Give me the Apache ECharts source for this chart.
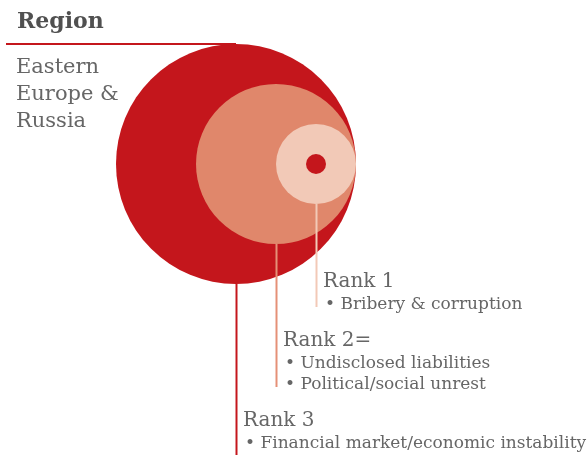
<!DOCTYPE html>
<html>
<head>
<meta charset="utf-8">
<script src="https://cdn.jsdelivr.net/npm/echarts@6/dist/echarts.min.js"></script>
<style>html,body{margin:0;padding:0;background:#fff;}#c{width:588px;height:455px;}</style>
</head>
<body>
<div id="c"></div>
<script>
// ---- data ----
const headerTitle = 'Region';
const regionName = ['Eastern', 'Europe &', 'Russia'];
const ranks = [3, 2, 1];                       // circle size = rank (drawn largest first)
const rankLabels = ['Rank 3', 'Rank 2=', 'Rank 1'];
const rankRisks = [
  ['Financial market/economic instability'],
  ['Undisclosed liabilities', 'Political/social unrest'],
  ['Bribery & corruption']
];
const circleColors = ['#c4161c', '#e0876b', '#f2c9b7'];
const stemColors = ['#c4161c', '#e59077', '#f2c9b7'];

// ---- styles ----
const FONT = "'DejaVu Serif', serif";
const TEXT_COLOR = '#666666';
const TITLE_COLOR = '#505050';
const maxRank = Math.max(...ranks);

const chart = echarts.init(document.getElementById('c'), null, {renderer: 'canvas'});

// label layout (rank 1 on top, stacking downward); values are baselines
function blockLayout(bigBottom) {
  const order = ranks.map((r, i) => i).sort((a, b) => ranks[a] - ranks[b]);
  const res = {};
  let y = bigBottom + 4;
  order.forEach((i) => {
    const lines = rankRisks[i];
    res[i] = {title: y, bullets: lines.map((_, j) => y + 21 * (j + 1))};
    y = y + 21 * lines.length + 38;
  });
  return res;
}

const option = {
  animation: false,
  grid: {left: 116, top: 44, width: 240, height: 240},
  xAxis: {type: 'value', min: 0, max: 2 * maxRank, show: false},
  yAxis: {type: 'value', min: -maxRank, max: maxRank, show: false},
  graphic: [
    {type: 'text', left: 17, top: 11, style: {text: headerTitle, font: "bold 22px " + FONT, fill: TITLE_COLOR}},
    ...regionName.map((t, i) => ({
      type: 'text', left: 16, top: 57 + 27 * i,
      style: {text: t, font: "21px " + FONT, fill: TEXT_COLOR}
    }))
  ],
  series: [
    {
      type: 'custom',
      coordinateSystem: 'cartesian2d',
      clip: false,
      silent: true,
      data: ranks.map((r, i) => [2 * maxRank - r, 0, r, i]),
      renderItem(params, api) {
        const i = api.value(3);
        const r = api.value(2);
        const c = api.coord([api.value(0), api.value(1)]);
        const rad = api.size([r, 0])[0];
        const children = [{
          type: 'circle', shape: {cx: c[0], cy: c[1], r: rad},
          style: {fill: circleColors[i]}
        }];
        if (r === maxRank) {
          children.unshift({
            type: 'line', shape: {x1: 6, y1: c[1] - rad, x2: c[0], y2: c[1] - rad},
            style: {stroke: circleColors[i], lineWidth: 2}
          });
        }
        return {type: 'group', children};
      }
    },
    {
      type: 'custom',
      coordinateSystem: 'cartesian2d',
      clip: false,
      silent: true,
      z: 3,
      data: ranks.map((r, i) => [2 * maxRank - r, 0, r, i]),
      renderItem(params, api) {
        const i = api.value(3);
        const r = api.value(2);
        const c = api.coord([api.value(0), api.value(1)]);
        const rad = api.size([r, 0])[0];
        const bigRad = api.size([maxRank, 0])[0];
        const layout = blockLayout(c[1] + bigRad)[i];
        const last = layout.bullets[layout.bullets.length - 1];
        const yEnd = r === maxRank ? api.getHeight() : last - 2;
        const children = [{
          type: 'line', shape: {x1: c[0] + 0.5, y1: c[1] + rad, x2: c[0] + 0.5, y2: yEnd},
          style: {stroke: stemColors[i], lineWidth: 2}
        }, {
          type: 'text',
          style: {text: rankLabels[i], x: c[0] + 7, y: layout.title + 4, font: "20px " + FONT,
                  fill: TEXT_COLOR, verticalAlign: 'bottom', align: 'left'}
        }];
        rankRisks[i].forEach((t, j) => {
          children.push({
            type: 'text',
            style: {text: '\u2022 ' + t, x: c[0] + 9, y: layout.bullets[j] + 4, font: "17px " + FONT,
                    fill: TEXT_COLOR, verticalAlign: 'bottom', align: 'left'}
          });
        });
        return {type: 'group', children};
      }
    },
    {
      type: 'custom',
      coordinateSystem: 'cartesian2d',
      clip: false,
      silent: true,
      z: 4,
      data: [[2 * maxRank - 1, 0]],
      renderItem(params, api) {
        const c = api.coord([api.value(0), api.value(1)]);
        const rad = api.size([0.25, 0])[0];
        return {type: 'circle', shape: {cx: c[0], cy: c[1], r: rad}, style: {fill: circleColors[0]}};
      }
    }
  ]
};
chart.setOption(option);
</script>
</body>
</html>
